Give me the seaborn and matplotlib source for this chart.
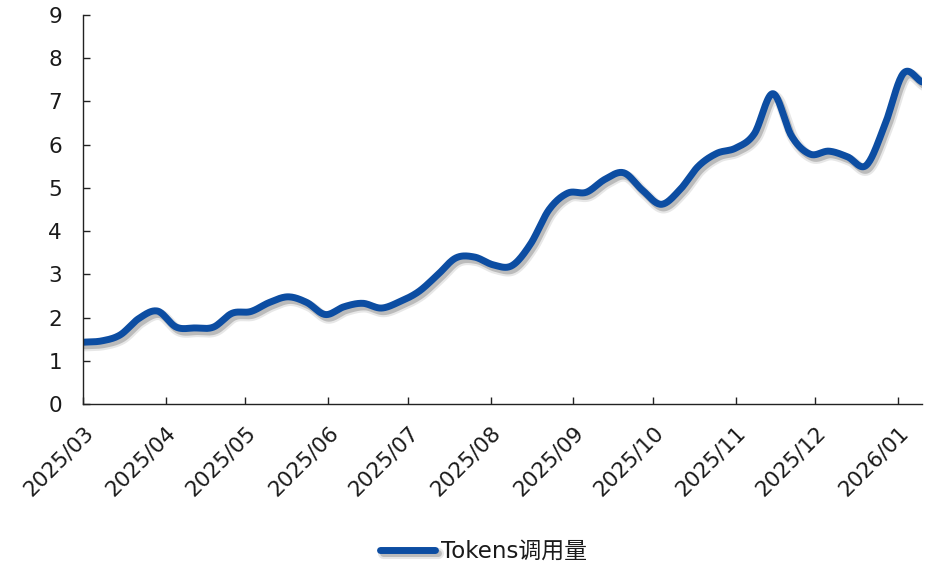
import numpy as np
import pandas as pd
import matplotlib
matplotlib.use("Agg")
import matplotlib.pyplot as plt
import matplotlib.dates as mdates
import matplotlib.patheffects as pe
import seaborn as sns

# Weekly token usage (sampled every 7 days starting 2025-03-01)
start_date = "2025-03-01"
token_values = [
    1.43, 1.46, 1.60, 1.98, 2.15, 1.78, 1.76, 1.78, 2.10, 2.14,
    2.35, 2.48, 2.35, 2.07, 2.25, 2.33, 2.22, 2.37, 2.60, 2.98,
    3.38, 3.40, 3.22, 3.20, 3.70, 4.50, 4.88, 4.90, 5.20, 5.35,
    4.95, 4.62, 4.95, 5.50, 5.80, 5.92, 6.25, 7.18, 6.20, 5.78,
    5.85, 5.72, 5.52, 6.45, 7.65, 7.45,
]
month_ticks = ["2025-03-01", "2025-04-01", "2025-05-01", "2025-06-01",
               "2025-07-01", "2025-08-01", "2025-09-01", "2025-10-01",
               "2025-11-01", "2025-12-01", "2026-01-01"]
series_name = "Tokens调用量"
y_ticks = list(range(0, 10))

line_color = "#0C4DA2"

dates = pd.date_range(start_date, periods=len(token_values), freq="7D")
x = mdates.date2num(dates)
y = np.asarray(token_values, dtype=float)


def catmull_rom(xs, ys, steps=20):
    """Smooth curve through every point (uniform Catmull-Rom)."""
    px = np.concatenate([[2 * xs[0] - xs[1]], xs, [2 * xs[-1] - xs[-2]]])
    py = np.concatenate([[2 * ys[0] - ys[1]], ys, [2 * ys[-1] - ys[-2]]])
    out_x, out_y = [], []
    t = np.linspace(0, 1, steps, endpoint=False)
    for i in range(1, len(px) - 2):
        for arr, out in ((px, out_x), (py, out_y)):
            p0, p1, p2, p3 = arr[i - 1], arr[i], arr[i + 1], arr[i + 2]
            out.append(0.5 * ((2 * p1) + (-p0 + p2) * t
                              + (2 * p0 - 5 * p1 + 4 * p2 - p3) * t ** 2
                              + (-p0 + 3 * p1 - 3 * p2 + p3) * t ** 3))
    out_x.append([xs[-1]])
    out_y.append([ys[-1]])
    return np.concatenate(out_x), np.concatenate(out_y)


sx, sy = catmull_rom(x, y)
curve = pd.DataFrame({"date": mdates.num2date(sx), "value": sy})

sns.set_theme(style="white")
plt.rcParams["font.family"] = ["DejaVu Sans", "Noto Sans CJK SC"]

fig = plt.figure(figsize=(9.25, 5.68), dpi=100)
ax = fig.add_axes([0.0897, 0.2887, 0.9071, 0.6849])

sns.lineplot(data=curve, x="date", y="value", ax=ax, color=line_color,
             linewidth=5.0, sort=False, label=series_name,
             solid_capstyle="round", solid_joinstyle="round")
line = ax.get_lines()[0]
line.set_path_effects([
    pe.SimpleLineShadow(offset=(1.8, -2.6), shadow_color="#7a7a7a",
                        alpha=0.18, linewidth=8.0),
    pe.SimpleLineShadow(offset=(1.8, -2.6), shadow_color="#6a6a6a",
                        alpha=0.35, linewidth=5.0),
    pe.Normal(),
])

ax.set_xlim(x[0], x[-1])
ax.set_ylim(0, 9)
ax.set_yticks(y_ticks)
ax.set_yticklabels([str(v) for v in y_ticks])
tick_pos = mdates.date2num(pd.to_datetime(month_ticks))
ax.set_xticks(tick_pos)
ax.set_xticklabels(pd.to_datetime(month_ticks).strftime("%Y/%m"),
                   rotation=45, ha="right", va="top", rotation_mode="anchor")
ax.set_xlabel("")
ax.set_ylabel("")

for side in ("top", "right"):
    ax.spines[side].set_visible(False)
for side in ("left", "bottom"):
    ax.spines[side].set_color("#222222")
    ax.spines[side].set_linewidth(1.0)

ax.tick_params(axis="both", direction="in", length=5, width=1.0,
               color="#222222", labelcolor="#1a1a1a")
ax.tick_params(axis="y", pad=15, labelsize=15.5, left=True)
ax.tick_params(axis="x", pad=13, labelsize=15.5, bottom=True)

ax.get_legend().remove()
handles, labels = ax.get_legend_handles_labels()
fig.legend(handles, labels, loc="lower center", bbox_to_anchor=(0.523, -0.027),
           frameon=False, fontsize=16.5, handlelength=2.4, handletextpad=0.25,
           labelcolor="#1a1a1a")

fig.savefig("out.png", dpi=100, facecolor="white")
